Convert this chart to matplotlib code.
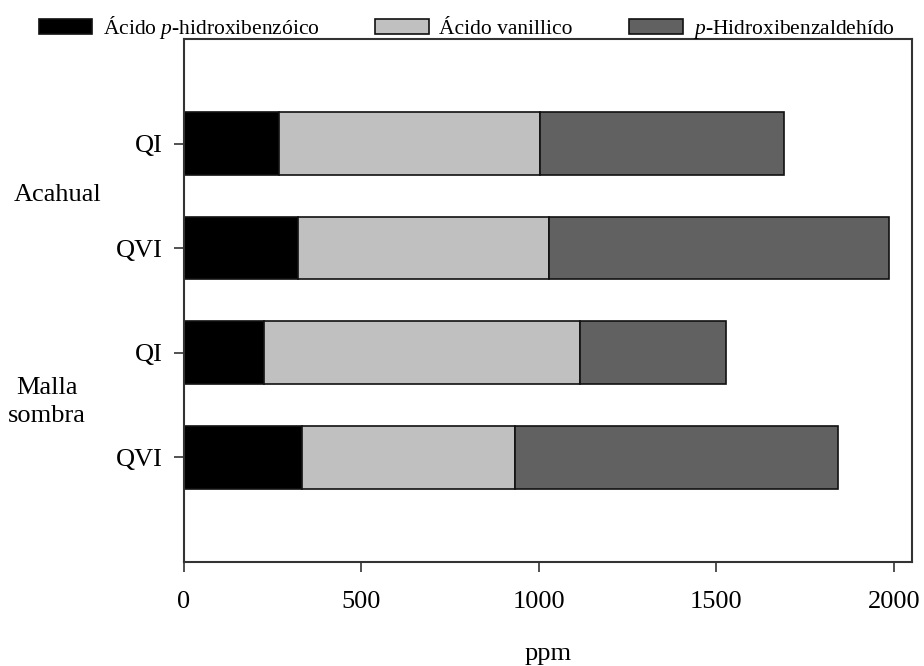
import numpy as np
import matplotlib.pyplot as plt

plt.rcParams['font.family'] = ['Liberation Serif', 'DejaVu Serif']
plt.rcParams['mathtext.fontset'] = 'custom'
plt.rcParams['mathtext.rm'] = 'Liberation Serif'
plt.rcParams['mathtext.it'] = 'Liberation Serif:italic'

# bars from top to bottom
cats = ['QI', 'QVI', 'QI', 'QVI']
hidroxibenzoico = [268, 322, 225, 332]
vanillico = [736, 706, 892, 601]
hidroxibenzaldehido = [685, 957, 409, 908]

labels = ['Ácido $\\mathit{p}$-hidroxibenzóico', 'Ácido vanillico', '$\\mathit{p}$-Hidroxibenzaldehído']
colors = ['#000000', '#c0c0c0', '#616161']

fig = plt.figure(figsize=(9.24, 6.66), dpi=100)
ax = fig.add_axes([0.1991, 0.1566, 0.9867 - 0.1991, 0.9414 - 0.1566])

ind = np.arange(len(cats))
h = 0.6
left = np.zeros(len(cats))
for vals, c, lab in zip([hidroxibenzoico, vanillico, hidroxibenzaldehido], colors, labels):
    ax.barh(ind, vals, h, left=left, color=c, edgecolor='#111111', linewidth=1.2, label=lab)
    left += np.array(vals)

ax.set_xlim(0, 2050)
ax.set_ylim(4, -1)
ax.set_yticks(ind)
ax.set_yticklabels(cats)
ax.set_xticks([0, 500, 1000, 1500, 2000])
ax.tick_params(axis='both', labelsize=19, direction='out', length=7, width=1.2, color='#333333')
ax.tick_params(axis='y', pad=8)
ax.tick_params(axis='x', pad=14)
for s in ax.spines.values():
    s.set_linewidth(1.5)
    s.set_color('#333333')
ax.set_xlabel('ppm', fontsize=19, labelpad=22)

fig.text(0.062, 0.707, 'Acahual', fontsize=19, ha='center', va='center')
fig.text(0.051, 0.396, 'Malla\nsombra', fontsize=19, ha='center', va='center', linespacing=1.35)

fig.legend(loc='upper center', bbox_to_anchor=(0.505, 1.008), ncol=3, frameon=False,
           fontsize=15.5, handlelength=2.5, handleheight=0.75, columnspacing=2.6, handletextpad=0.47)

fig.savefig('out.png', dpi=100)
